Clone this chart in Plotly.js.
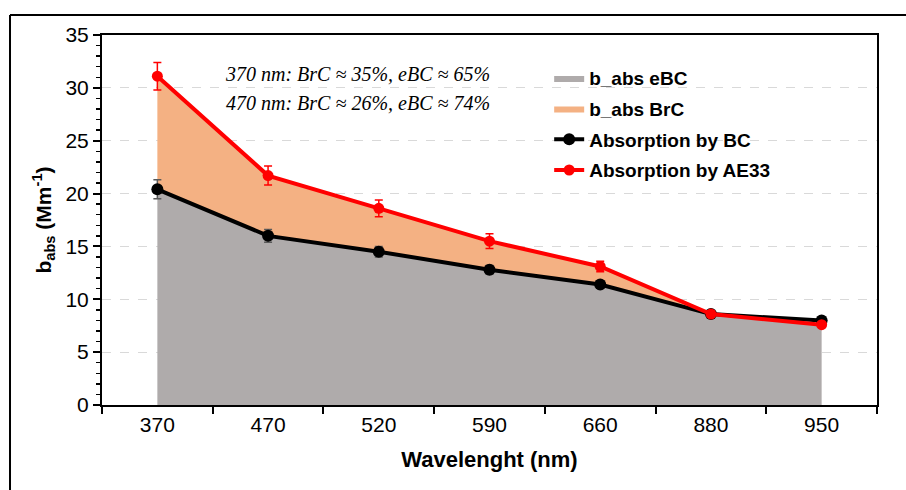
<!DOCTYPE html>
<html>
<head>
<meta charset="utf-8">
<script src="https://cdn.plot.ly/plotly-3.0.1.min.js"></script>
<style>
html,body{margin:0;padding:0;background:#fff;}
#chart{width:906px;height:490px;}
</style>
</head>
<body>
<div id="chart"></div>
<script>
// Data
const wavelengths = ['370', '470', '520', '590', '660', '880', '950'];
const absBC = [20.4, 16.0, 14.5, 12.8, 11.4, 8.6, 8.0];
const absBCErr = [0.9, 0.6, 0.5, 0.4, 0.3, 0.3, 0.2];
const absAE33 = [31.1, 21.7, 18.6, 15.5, 13.1, 8.6, 7.6];
const absAE33Err = [1.3, 0.9, 0.8, 0.7, 0.5, 0.3, 0.2];
const areaEBC = [20.4, 16.0, 14.5, 12.8, 11.4, 8.6, 7.6];
const areaBrCTop = [31.1, 21.7, 18.6, 15.5, 13.1, 8.6, 7.6];
const notes = ['370 nm: BrC ≈ 35%, eBC ≈ 65%', '470 nm: BrC ≈ 26%, eBC ≈ 74%'];

const traces = [
  {
    x: wavelengths, y: areaEBC, name: 'b_abs eBC', type: 'scatter', mode: 'lines',
    fill: 'tozeroy', fillcolor: '#afabab', line: {width: 0, color: '#afabab'},
    legendgroup: 'a', hoverinfo: 'skip'
  },
  {
    x: wavelengths, y: areaBrCTop, name: 'b_abs BrC', type: 'scatter', mode: 'lines',
    fill: 'tonexty', fillcolor: '#f4b183', line: {width: 0, color: '#f4b183'},
    legendgroup: 'b', hoverinfo: 'skip'
  },
  {
    x: wavelengths, y: absBC, name: 'Absorption by BC', type: 'scatter', mode: 'lines+markers',
    line: {color: '#000000', width: 4}, marker: {color: '#000000', size: 12},
    error_y: {type: 'data', array: absBCErr, visible: true, color: '#595959', thickness: 1.5, width: 4},
    legendgroup: 'c'
  },
  {
    x: wavelengths, y: absAE33, name: 'Absorption by AE33', type: 'scatter', mode: 'lines+markers',
    line: {color: '#ff0000', width: 4}, marker: {color: '#ff0000', size: 11},
    error_y: {type: 'data', array: absAE33Err, visible: true, color: '#ff0000', thickness: 1.5, width: 4},
    legendgroup: 'd'
  }
];

const layout = {
  width: 906, height: 490,
  margin: {l: 102, r: 29, t: 35, b: 85},
  paper_bgcolor: '#ffffff', plot_bgcolor: '#ffffff',
  font: {family: 'Liberation Sans, Arial, sans-serif', color: '#000'},
  showlegend: true,
  legend: {
    x: 0.577, y: 0.935, xanchor: 'left', yanchor: 'top',
    bgcolor: 'rgba(0,0,0,0)', traceorder: 'grouped', tracegroupgap: 3,
    font: {family: 'Liberation Sans, Arial, sans-serif', size: 19, weight: 'bold', color: '#000'}
  },
  xaxis: {
    type: 'category', range: [-0.5, 6.5],
    showline: true, linecolor: '#000', linewidth: 2, mirror: true,
    ticks: 'outside', tickson: 'boundaries', ticklen: 7, tickwidth: 2, tickcolor: '#000',
    showgrid: false, zeroline: false,
    tickfont: {size: 21, color: '#000'},
    title: {text: 'Wavelenght (nm)', font: {size: 22, weight: 'bold', color: '#000'}, standoff: 16}
  },
  yaxis: {
    range: [0, 35], dtick: 5, tick0: 0,
    showline: true, linecolor: '#000', linewidth: 2, mirror: true,
    ticks: 'outside', ticklen: 7, tickwidth: 2, tickcolor: '#000',
    minor: {dtick: 1, ticks: 'outside', ticklen: 4, tickwidth: 1.5, tickcolor: '#000', showgrid: false},
    showgrid: true, gridcolor: '#d9d9d9', griddash: 'dash', gridwidth: 1.2,
    zeroline: false,
    tickfont: {size: 21, color: '#000'},
    title: {text: 'b<sub>abs</sub> (Mm<sup>-1</sup>)', font: {size: 21, weight: 'bold', color: '#000'}, standoff: 8}
  },
  annotations: [
    {xref: 'paper', yref: 'y', x: 0.33, y: 31.3, text: notes[0], showarrow: false,
     xanchor: 'center', yanchor: 'middle',
     font: {family: 'Liberation Serif, serif', size: 20, style: 'italic', color: '#000'}},
    {xref: 'paper', yref: 'y', x: 0.33, y: 28.6, text: notes[1], showarrow: false,
     xanchor: 'center', yanchor: 'middle',
     font: {family: 'Liberation Serif, serif', size: 20, style: 'italic', color: '#000'}}
  ],
  shapes: [
    {type: 'line', xref: 'paper', yref: 'paper', x0: -0.1187, x1: 1.05, y0: 1.054, y1: 1.054,
     line: {color: '#000', width: 2}},
    {type: 'line', xref: 'paper', yref: 'paper', x0: -0.1187, x1: -0.1187, y0: 1.054, y1: -0.25,
     line: {color: '#000', width: 2}}
  ]
};

Plotly.newPlot('chart', traces, layout, {displayModeBar: false, staticPlot: true});
</script>
</body>
</html>
